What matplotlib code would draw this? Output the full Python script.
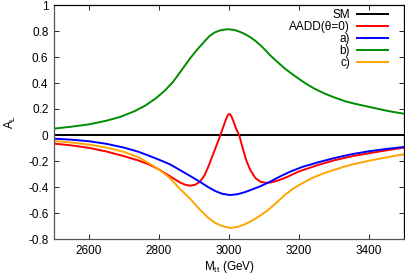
import numpy as np
import matplotlib
matplotlib.use('Agg')
import matplotlib.pyplot as plt
from matplotlib.ticker import FuncFormatter, MultipleLocator

plt.rcParams['font.family'] = ['Liberation Sans', 'DejaVu Sans']
plt.rcParams['mathtext.fontset'] = 'custom'
plt.rcParams['mathtext.rm'] = 'Liberation Sans'
plt.rcParams['mathtext.it'] = 'Liberation Sans'

# SM
m_sm = [2500, 3500]
a_sm = [0.0, 0.0]

# AADD(theta=0)
m_red = [2500, 2550, 2600, 2650, 2700, 2740, 2770, 2800, 2830, 2860, 2875, 2889, 2903, 2917,
         2930, 2940, 2950, 2960, 2970, 2980, 2990, 2996, 3001, 3006, 3012, 3020, 3029, 3040,
         3050, 3060, 3075, 3090, 3105, 3120, 3140, 3160, 3200, 3255, 3300, 3350, 3400, 3450,
         3500]
a_red = [-0.066, -0.08, -0.099, -0.127, -0.163, -0.195, -0.225, -0.265, -0.315, -0.365,
         -0.383, -0.39, -0.383, -0.36, -0.31, -0.25, -0.18, -0.11, -0.04, 0.035, 0.11, 0.15,
         0.163, 0.15, 0.11, 0.05, 0.0, -0.11, -0.2, -0.265, -0.33, -0.36, -0.368, -0.365,
         -0.35, -0.33, -0.28, -0.23, -0.195, -0.164, -0.14, -0.118, -0.097]

# a)
m_a = [2500, 2550, 2600, 2650, 2700, 2740, 2770, 2800, 2831, 2860, 2889, 2917, 2940, 2960,
       2980, 3003, 3025, 3045, 3065, 3089, 3117, 3145, 3174, 3210, 3255, 3300, 3350, 3400,
       3450, 3500]
a_a = [-0.028, -0.036, -0.048, -0.068, -0.097, -0.128, -0.158, -0.19, -0.225, -0.27, -0.315,
       -0.36, -0.40, -0.43, -0.452, -0.462, -0.455, -0.44, -0.42, -0.395, -0.36, -0.32,
       -0.283, -0.245, -0.21, -0.178, -0.148, -0.125, -0.107, -0.092]

# b)
m_b = [2500, 2550, 2600, 2650, 2690, 2730, 2760, 2790, 2815, 2840, 2865, 2889, 2910, 2935,
       2946, 2960, 2975, 2990, 3001, 3015, 3030, 3045, 3060, 3075, 3090, 3105, 3117, 3135,
       3160, 3190, 3217, 3245, 3274, 3300, 3331, 3360, 3389, 3420, 3445, 3470, 3500]
a_b = [0.049, 0.064, 0.082, 0.11, 0.14, 0.183, 0.225, 0.28, 0.337, 0.408, 0.50, 0.59, 0.66,
       0.735, 0.765, 0.79, 0.805, 0.812, 0.813, 0.808, 0.795, 0.777, 0.754, 0.725, 0.69,
       0.65, 0.615, 0.57, 0.51, 0.45, 0.40, 0.355, 0.318, 0.29, 0.26, 0.24, 0.223, 0.205,
       0.19, 0.177, 0.164]

# c)
m_c = [2500, 2550, 2600, 2650, 2700, 2740, 2770, 2800, 2831, 2860, 2889, 2917, 2940, 2960,
       2980, 3003, 3025, 3045, 3065, 3089, 3105, 3117, 3140, 3160, 3185, 3210, 3240, 3270,
       3300, 3350, 3400, 3450, 3500]
a_c = [-0.046, -0.058, -0.074, -0.097, -0.13, -0.17, -0.215, -0.265, -0.33, -0.415, -0.49,
       -0.575, -0.635, -0.675, -0.70, -0.715, -0.707, -0.687, -0.66, -0.62, -0.59, -0.565,
       -0.51, -0.46, -0.41, -0.37, -0.328, -0.295, -0.268, -0.228, -0.198, -0.172, -0.148]

fig = plt.figure(figsize=(4.05, 2.77), dpi=100)
ax = fig.add_axes([54 / 405, 38 / 277, 350 / 405, 234 / 277])

lw = 1.4
fs = 8.5
ax.plot(m_sm, a_sm, color='black', lw=lw, label='SM')
ax.plot(m_red, a_red, color='#ff0000', lw=lw, label='AADD(θ=0)')
ax.plot(m_a, a_a, color='#0000ff', lw=lw, label='a)')
ax.plot(m_b, a_b, color='#008c00', lw=lw, label='b)')
ax.plot(m_c, a_c, color='#ffa500', lw=lw, label='c)')

ax.set_xlim(2500, 3500)
ax.set_ylim(-0.8, 1.0)
ax.set_xticks([2600, 2800, 3000, 3200, 3400])
ax.yaxis.set_major_locator(MultipleLocator(0.2))
ax.yaxis.set_major_formatter(FuncFormatter(lambda v, p: f'{round(v, 1):g}'))
ax.tick_params(direction='in', length=3.5, width=0.6, labelsize=fs, top=True, right=True,
               pad=4, colors='black')
for s in ax.spines.values():
    s.set_linewidth(0.9)
ax.spines['left'].set_color('#555555')
ax.spines['bottom'].set_color('#555555')

ax.set_xlabel(r'M$_{\rm tt}$ (GeV)', fontsize=fs, labelpad=2)
ax.set_ylabel(r'A$_{\rm L}$', fontsize=fs, labelpad=7)

ax.legend(loc='upper right', bbox_to_anchor=(388 / 405, 268 / 277),
          bbox_transform=fig.transFigure, frameon=False, markerfirst=False,
          fontsize=fs, handlelength=2.6, handletextpad=0.6, labelspacing=0.0,
          borderpad=0, borderaxespad=0)

fig.savefig('out.png', dpi=100)
